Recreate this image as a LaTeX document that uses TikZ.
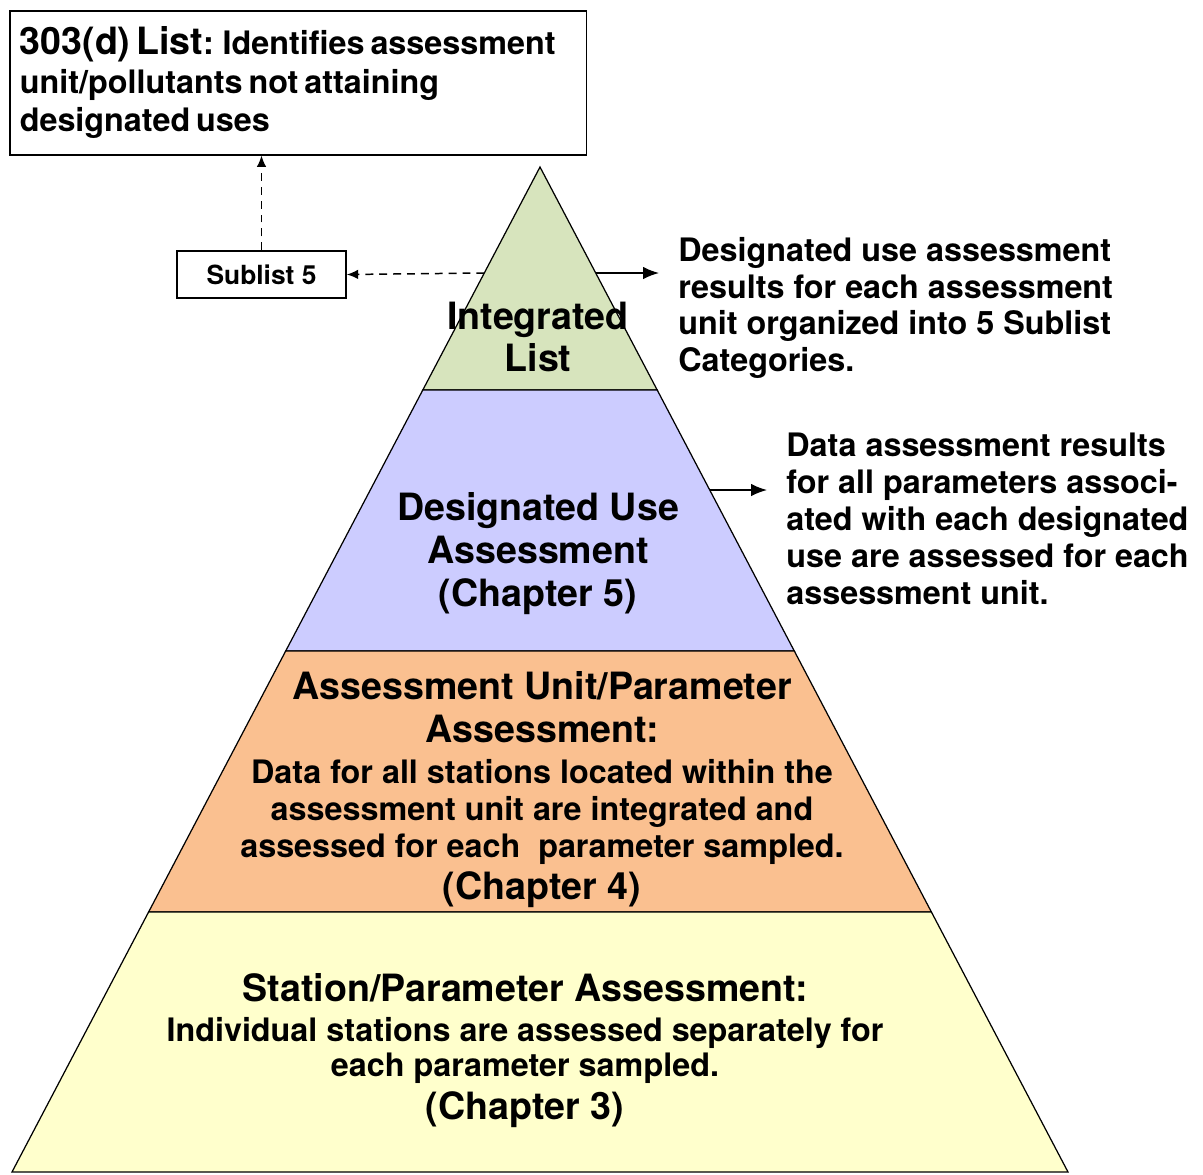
\documentclass[tikz,border=0pt]{standalone}
\usepackage{fontspec}
\setmainfont{TeX Gyre Heros}
\usetikzlibrary{positioning,arrows.meta}

\definecolor{listgreen}{RGB}{215,228,189}
\definecolor{uselilac}{RGB}{204,204,255}
\definecolor{unitorange}{RGB}{250,192,144}
\definecolor{stationyellow}{RGB}{255,255,204}

\newcommand{\headfont}{\fontsize{21.4}{24.4}\selectfont\bfseries}
\newcommand{\bodyfont}{\fontsize{18.4}{21}\selectfont\bfseries}

\begin{document}
\begin{tikzpicture}[x=0.02cm,y=-0.02cm,
		band/.style={draw,line width=0.7pt},
		box/.style={draw,line width=0.9pt,fill=white},
		note/.style={align=left,font=\bodyfont,inner sep=0pt},
		bandtext/.style={align=center,inner sep=0pt,font=\headfont},
		pointer/.style={->,>={Latex[length=9pt,width=7pt]},line width=0.8pt,shorten >=0.38cm},
		dashpointer/.style={->,>={Latex[length=6.5pt,width=5.5pt]},line width=0.85pt,dash pattern=on 4.5pt off 3.4pt}]
		\useasboundingbox (0,0) rectangle (1203,1174);
		
		% pyramid bands
		\coordinate (apex) at (540,167);
		\filldraw[band,fill=listgreen] (apex) -- (657.2,390) -- (422.8,390) -- cycle;
		\filldraw[band,fill=uselilac] (422.8,390) -- (657.2,390) -- (794.3,651) -- (285.7,651) -- cycle;
		\filldraw[band,fill=unitorange] (285.7,651) -- (794.3,651) -- (931.4,912) -- (148.6,912) -- cycle;
		\filldraw[band,fill=stationyellow] (148.6,912) -- (931.4,912) -- (1068,1172) -- (12,1172) -- cycle;
		
		\node[bandtext] (intlist) at (538,337) {Integrated\\List};
		\node[bandtext] (useass) at (538,553.5) {Designated Use\\Assessment\\(Chapter 5)};
		\node[bandtext] (unitass) at (542,790) {Assessment Unit/Parameter\\Assessment:\\[-1.4pt]
			\bodyfont Data for all stations located within the\\[-3.4pt]\bodyfont assessment unit are integrated and\\[-3.4pt]\bodyfont assessed for each\ \ parameter sampled.\\[0pt]
			(Chapter 4)};
		\node[bandtext] (statass) at (525,1050.5) {Station/Parameter Assessment:\\[-2pt]
			\bodyfont Individual stations are assessed separately for\\[-4pt]\bodyfont each parameter sampled.\\[-0.4pt]
			(Chapter 3)};
		
		% boxes and notes
		\node[box,anchor=north west,minimum width=11.54cm,minimum height=2.88cm,text width=11.14cm,inner xsep=0.2cm,align=left] (list303) at (9,10)
			{{\fontsize{21.4}{22}\selectfont\bfseries 303(d) List}\fontsize{18.4}{22}\selectfont\bfseries: Identifies assessment\\unit/pollutants not attaining\\[3pt]designated uses};
		\node[box,minimum width=3.38cm,minimum height=0.94cm,font=\fontsize{15}{18}\selectfont\bfseries] (sub5) at (261.5,274.5) {Sublist 5};
		
		\node[note,anchor=west] (intnote) at (678,308) {Designated use assessment\\results for each assessment\\unit organized into 5 Sublist\\Categories.};
		\node[note,anchor=west] (usenote) at (786,519) {Data assessment results\\for all parameters associ-\\ated with each designated\\use are assessed for each\\assessment unit.};
		
		\coordinate (intW) at (484.3,273);
		\coordinate (intE) at (595.7,273);
		\coordinate (useE) at (709.7,490);
		
		\path[dashpointer]
		(intW) edge (sub5.east)
		(sub5.north) edge (sub5.north |- list303.south);
		
		\path[pointer]
		(intE) edge (intE -| intnote.west)
		(useE) edge (useE -| usenote.west);
	\end{tikzpicture}
\end{document}
